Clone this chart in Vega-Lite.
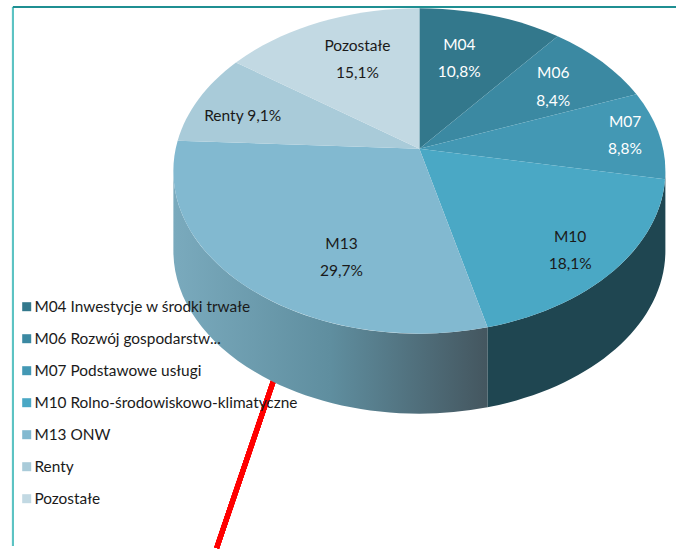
{
"$schema":"https://vega.github.io/schema/vega-lite/v6.json",
"width":677,"height":551,"autosize":{"type":"fit","contains":"padding"},"padding":0,"background":"white",
"config":{"view":{"stroke":null},"axis":{"disable":true},"text":{"font":"Lato","fontSize":15.5,"lineBreak":"\n","lineHeight":27.5,"align":"center","baseline":"middle"}},
"data":{"values":[
{"order":1,"name":"M04 Inwestycje w środki trwałe","short":"M04","value":10.8},
{"order":2,"name":"M06 Rozwój gospodarstw...","short":"M06","value":8.4},
{"order":3,"name":"M07 Podstawowe usługi","short":"M07","value":8.8},
{"order":4,"name":"M10 Rolno-środowiskowo-klimatyczne","short":"M10","value":18.1},
{"order":5,"name":"M13 ONW","short":"M13","value":29.7},
{"order":6,"name":"Renty","short":"Renty","value":9.1},
{"order":7,"name":"Pozostałe","short":"Pozostałe","value":15.1}
]},
"transform":[
{"window":[{"op":"sum","field":"value","as":"end"}],"sort":[{"field":"order"}]},
{"calculate":"2*PI*(datum.end-datum.value)/100","as":"a0"},
{"calculate":"2*PI*datum.end/100","as":"a1"},
{"calculate":"round(24370*sin(datum.a0)/(1+0.1367*cos(datum.a0)))/100","as":"x0"},
{"calculate":"round(-15970*cos(datum.a0)/(1+0.1367*cos(datum.a0)))/100","as":"y0"},
{"calculate":"round(24370*sin(datum.a1)/(1+0.1367*cos(datum.a1)))/100","as":"x1"},
{"calculate":"round(-15970*cos(datum.a1)/(1+0.1367*cos(datum.a1)))/100","as":"y1"},
{"calculate":"'M0,0L'+datum.x0+','+datum.y0+'A246,162.75 0 0 1 '+datum.x1+','+datum.y1+'Z'","as":"wedge"},
{"calculate":"datum.short=='M10' ? 'M246,22.25A246,162.75 0 0 1 '+datum.x1+','+datum.y1+'L'+datum.x1+','+(datum.y1+80)+'A246,162.75 0 0 0 246,102.25Z' : 'M'+datum.x0+','+datum.y0+'A246,162.75 0 0 1 -246,22.25L-246,102.25A246,162.75 0 0 0 '+datum.x0+','+(datum.y0+80)+'Z'","as":"side"},
{"calculate":"replace(format(datum.value,'.1f'),'.',',')+'%'","as":"pct"},
{"calculate":"datum.short=='Renty' ? datum.short+' '+datum.pct : datum.short+'\\n'+datum.pct","as":"label"}
],
"layer":[
{"mark":{"type":"rule","stroke":"#5cc3c3","strokeWidth":2},"encoding":{
 "x":{"datum":13,"type":"quantitative","scale":{"domain":[0,677],"nice":false,"zero":false}},
 "y":{"datum":7,"type":"quantitative","scale":{"domain":[551,0],"nice":false,"zero":false}},
 "y2":{"datum":551}}},
{"mark":{"type":"rule","stroke":"#1f8f92","strokeWidth":2},"encoding":{
 "x":{"datum":13,"type":"quantitative"},"x2":{"datum":677},
 "y":{"datum":7,"type":"quantitative"}}},
{"mark":{"type":"rule","stroke":"#ff0000","strokeWidth":5},"encoding":{
 "x":{"datum":280,"type":"quantitative"},"x2":{"datum":217},
 "y":{"datum":366,"type":"quantitative"},"y2":{"datum":553}}},
{"transform":[{"filter":"datum.short=='M13'"}],
 "mark":{"type":"point","filled":true,"opacity":1,"size":4,"fill":{"gradient":"linear","x1":0,"y1":0,"x2":1,"y2":0,"stops":[{"offset":0,"color":"#7aaabd"},{"offset":0.5,"color":"#5f8e9f"},{"offset":1,"color":"#44565f"}]}},
 "encoding":{"x":{"datum":420,"type":"quantitative"},"y":{"datum":150,"type":"quantitative"},"shape":{"field":"side","type":"nominal","scale":null}}},
{"transform":[{"filter":"datum.short=='M10'"}],
 "mark":{"type":"point","filled":true,"opacity":1,"size":4,"fill":"#1f4651"},
 "encoding":{"x":{"datum":420,"type":"quantitative"},"y":{"datum":150,"type":"quantitative"},"shape":{"field":"side","type":"nominal","scale":null}}},
{"mark":{"type":"point","filled":true,"opacity":1,"size":4},
 "encoding":{"x":{"datum":420,"type":"quantitative"},"y":{"datum":150,"type":"quantitative"},
 "shape":{"field":"wedge","type":"nominal","scale":null},
 "color":{"field":"name","type":"nominal","sort":null,
  "scale":{"domain":["M04 Inwestycje w środki trwałe","M06 Rozwój gospodarstw...","M07 Podstawowe usługi","M10 Rolno-środowiskowo-klimatyczne","M13 ONW","Renty","Pozostałe"],"range":["#33788c","#3b89a2","#4398b4","#4aa8c5","#82b9d0","#a9cbd9","#c2d9e3"]},
  "legend":{"orient":"none","legendX":19,"legendY":299,"title":null,"symbolType":"square","symbolSize":81,"symbolOpacity":1,"symbolStrokeWidth":0,"labelFont":"Lato","labelFontSize":15.4,"labelColor":"#1a1a1a","labelLimit":400,"labelOffset":0,"rowPadding":15}}}},
{"transform":[{"filter":"datum.short=='M04'"}],"mark":{"type":"text","color":"#ffffff"},"encoding":{"x":{"datum":460,"type":"quantitative"},"y":{"datum":45,"type":"quantitative"},"text":{"field":"label"}}},
{"transform":[{"filter":"datum.short=='M06'"}],"mark":{"type":"text","color":"#ffffff"},"encoding":{"x":{"datum":554,"type":"quantitative"},"y":{"datum":74,"type":"quantitative"},"text":{"field":"label"}}},
{"transform":[{"filter":"datum.short=='M07'"}],"mark":{"type":"text","color":"#ffffff"},"encoding":{"x":{"datum":626,"type":"quantitative"},"y":{"datum":123,"type":"quantitative"},"text":{"field":"label"}}},
{"transform":[{"filter":"datum.short=='M10'"}],"mark":{"type":"text","color":"#1a1a1a"},"encoding":{"x":{"datum":571,"type":"quantitative"},"y":{"datum":239,"type":"quantitative"},"text":{"field":"label"}}},
{"transform":[{"filter":"datum.short=='M13'"}],"mark":{"type":"text","color":"#1a1a1a"},"encoding":{"x":{"datum":342,"type":"quantitative"},"y":{"datum":246,"type":"quantitative"},"text":{"field":"label"}}},
{"transform":[{"filter":"datum.short=='Renty'"}],"mark":{"type":"text","color":"#1a1a1a"},"encoding":{"x":{"datum":243,"type":"quantitative"},"y":{"datum":117,"type":"quantitative"},"text":{"field":"label"}}},
{"transform":[{"filter":"datum.short=='Pozostałe'"}],"mark":{"type":"text","color":"#1a1a1a"},"encoding":{"x":{"datum":358,"type":"quantitative"},"y":{"datum":46,"type":"quantitative"},"text":{"field":"label"}}}
]
}
